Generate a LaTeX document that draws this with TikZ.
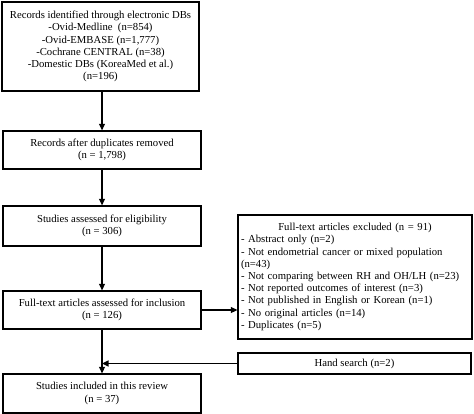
\documentclass[tikz,border=0pt]{standalone}
\usepackage{fontspec}
\setmainfont{Liberation Serif}
\usetikzlibrary{arrows.meta}
\begin{document}
\begin{tikzpicture}[x=1pt,y=-1pt,
  font=\fontsize{10.7pt}{12.2pt}\selectfont,
  box/.style={draw=black,line width=1.3pt,rectangle,inner sep=0pt,align=center},
  conn/.style={line width=1.3pt,-{Triangle[length=6.5pt,width=6pt]}}]
\useasboundingbox (0,0) rectangle (474,414);
\node[box,minimum width=197pt,minimum height=89pt] (b1) at (100.5,46.5)
  {Records identified through electronic DBs\\-Ovid-Medline\ \ (n=854)\\-Ovid-EMBASE (n=1,777)\\-Cochrane CENTRAL (n=38)\\-Domestic DBs (KoreaMed et al.)\\(n=196)};
\node[box,minimum width=198pt,minimum height=38pt] (b2) at (102,150)
  {Records after duplicates removed\\(n = 1,798)};
\node[box,minimum width=198pt,minimum height=40pt] (b3) at (102,226)
  {Studies assessed for eligibility\\(n = 306)};
\node[box,minimum width=198pt,minimum height=38pt] (b4) at (102,310)
  {Full-text articles assessed for inclusion\\(n = 126)};
\node[box,minimum width=198pt,minimum height=39pt] (b5) at (102,393.5)
  {Studies included in this review\\(n = 37)};
\node[box,minimum width=234pt,minimum height=124pt,text width=228pt,align=left] (ex) at (355,277)
  {\makebox[\hsize][c]{Full-text articles excluded (n = 91)}\\
   - Abstract only (n=2)\\
   - Not endometrial cancer or mixed population\\
   (n=43)\\
   - Not comparing between RH and OH/LH (n=23)\\
   - Not reported outcomes of interest (n=3)\\
   - Not published in English or Korean (n=1)\\
   - No original articles (n=14)\\
   - Duplicates (n=5)};
\node[box,minimum width=233pt,minimum height=21pt] (hs) at (354.5,363.5)
  {Hand search (n=2)};
\coordinate (m) at (b4.south |- hs.west);
\draw[conn] (b1.south -| b2.north) -- (b2.north);
\draw[conn] (b2.south) -- (b3.north);
\draw[conn] (b3.south) -- (b4.north);
\draw[conn] (b4.east) -- (b4.east -| ex.west);
\draw[conn] (b4.south) -- (b5.north);
\draw[conn] (hs.west) -- (m);
\end{tikzpicture}
\end{document}
